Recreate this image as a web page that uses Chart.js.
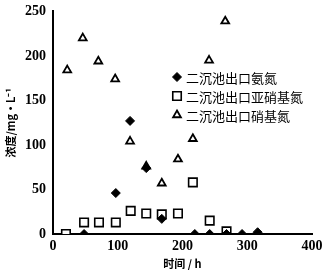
<!DOCTYPE html>
<html><head><meta charset="utf-8">
<script src="https://cdn.jsdelivr.net/npm/chart.js@4/dist/chart.umd.min.js"></script>
<style>html,body{margin:0;padding:0;background:#fff}#wrap{width:329px;height:274px;position:relative}</style>
</head><body><div id="wrap"><canvas id="c" width="329" height="274"></canvas></div>
<script>
const seriesNames = ['二沉池出口氨氮', '二沉池出口亚硝基氮', '二沉池出口硝基氮'];
const ammoniaT = [48, 97, 119, 144, 168, 219, 242, 268, 292, 316];
const ammoniaV = [0, 46, 127, 74, 17, 0, 0, 0, 0, 2];
const nitriteT = [20, 48, 71, 97, 120, 144, 168, 193, 216, 242, 268];
const nitriteV = [0, 13, 13, 13, 26, 23, 22, 23, 58, 15, 3];
const nitrateT = [22, 46, 70, 96, 119, 144, 168, 193, 216, 241, 266];
const nitrateV = [184, 220, 194, 174, 104, 76, 57, 84, 107, 195, 239];
const xTicks = [0, 100, 200, 300, 400];
const yTicks = [0, 50, 100, 150, 200, 250];
const xTitle = '时间 / h';
const yTitle = '浓度/mg·L⁻¹';

const pts = (t, v) => t.map((x, i) => ({x: x, y: v[i]}));
const serif = '"Liberation Serif", "Times New Roman", serif';
const cjk = '"Noto Sans CJK SC", sans-serif';

const legendPlugin = {
  id: 'inLegend',
  afterDatasetsDraw(chart) {
    const ctx = chart.ctx;
    const x0 = 177, y0 = 77, dy = 19;
    chart.data.datasets.forEach((ds, i) => {
      const y = y0 + i * dy;
      ctx.save();
      ctx.fillStyle = ds.backgroundColor; ctx.strokeStyle = '#000'; ctx.lineWidth = ds.borderWidth;
      Chart.helpers.drawPoint(ctx, {pointStyle: ds.pointStyle, radius: ds.pointRadius, borderWidth: ds.borderWidth}, x0, y);
      ctx.restore();
      ctx.save();
      ctx.fillStyle = '#000';
      ctx.font = '13px ' + cjk;
      ctx.textBaseline = 'middle';
      ctx.fillText(ds.label, x0 + 9, y + 1);
      ctx.restore();
    });
  }
};

new Chart(document.getElementById('c'), {
  type: 'scatter',
  data: {
    datasets: [
      {label: seriesNames[0], data: pts(ammoniaT, ammoniaV), pointStyle: 'rectRot', pointRadius: 4.5,
       backgroundColor: '#000', borderColor: '#000', borderWidth: 1},
      {label: seriesNames[1], data: pts(nitriteT, nitriteV), pointStyle: 'rect', pointRadius: 6,
       backgroundColor: '#fff', borderColor: '#000', borderWidth: 1.6},
      {label: seriesNames[2], data: pts(nitrateT, nitrateV), pointStyle: 'triangle', pointRadius: 4.5,
       backgroundColor: '#fff', borderColor: '#000', borderWidth: 1.8}
    ]
  },
  options: {
    responsive: false, animation: false,
    layout: {padding: {left: 4, right: 17, top: 5, bottom: 4}},
    plugins: {legend: {display: false}, tooltip: {enabled: false}},
    scales: {
      x: {
        type: 'linear', min: 0, max: 400,
        afterBuildTicks: s => { s.ticks = xTicks.map(v => ({value: v})); },
        afterFit: s => { s.height = 36; },
        grid: {display: false, drawTicks: true, tickLength: 3},
        border: {color: '#000', width: 2},
        ticks: {color: '#000', font: {family: serif, size: 14, weight: 'bold'}, padding: 1, maxRotation: 0},
        title: {display: true, text: xTitle, color: '#000', font: {family: cjk, size: 11, weight: 'bold'}, padding: {top: 0, bottom: 0}}
      },
      y: {
        min: 0, max: 250,
        afterBuildTicks: s => { s.ticks = yTicks.map(v => ({value: v})); },
        afterFit: s => { s.width = 49; },
        grid: {display: false, drawTicks: true, tickLength: 4},
        border: {color: '#000', width: 2},
        ticks: {color: '#000', font: {family: serif, size: 14, weight: 'bold'}, padding: 3},
        title: {display: true, text: yTitle, color: '#000', font: {family: cjk, size: 11, weight: 'bold'}, padding: {top: 0, bottom: 2}}
      }
    }
  },
  plugins: [legendPlugin]
});
</script></body></html>
